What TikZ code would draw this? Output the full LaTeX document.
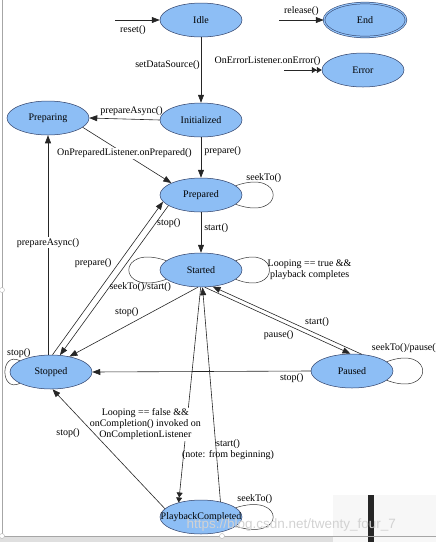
\documentclass[tikz,border=0pt]{standalone}
\usepackage{fontspec}
\setmainfont{Liberation Serif}
\newfontfamily\wmfont{Liberation Sans}
\usetikzlibrary{%
        arrows.meta,
        shapes.geometric,
        positioning,
    }
\definecolor{stateblue}{HTML}{8DBEF5}
\definecolor{stateline}{HTML}{2E3E66}
\tikzset{%
    mstate/.style={%
        ellipse,
        draw=stateline,
        fill=stateblue,
        line width=0.5pt,
        minimum width=82pt,
        minimum height=34pt,
        inner sep=0pt,
        font=\rmfamily\fontsize{10}{11}\selectfont,
    },
    trans/.style={%
        -{Triangle[length=8pt, width=6pt]},
        line width=0.6pt,
        draw=black!85,
    },
    transtwo/.style={%
        -{Triangle[length=5pt, width=6pt]Triangle[length=5pt, width=6pt]},
        line width=0.6pt,
        draw=black!85,
    },
    selfloop/.style={line width=0.5pt, draw=black!80},
    lab/.style={%
        font=\rmfamily\fontsize{10}{11}\selectfont,
        inner sep=1pt,
        align=center,
    },
}

\begin{document}
\begin{tikzpicture}[x=1pt, y=-1pt]

    \useasboundingbox (0, 0) rectangle (436, 542);

    %%%%%%%%%
    % Frame %
    %%%%%%%%%
    \fill[gray!25] (0, 537) rectangle (436, 542);
    \fill[gray!6] (333, 495) rectangle (436, 542);
    \fill[black!85] (368, 495) rectangle (374, 542);
    \draw[gray!70, line width=0.8pt] (2, 0) -- (2, 536) -- (436, 536);
    \foreach \hx/\hy in {2/290, 2/536, 222/536}{%
        \draw[gray!60, fill=white] (\hx, \hy) circle (2.5);
    };

    %%%%%%%%%%
    % States %
    %%%%%%%%%%
    \node[mstate] (idle) at (201, 20) {Idle};
    \node[mstate, double=stateblue, double distance=1.2pt] (end) at (365, 20) {End};
    \node[mstate] (error) at (363, 70) {Error};
    \node[mstate] (init) at (201, 120) {Initialized};
    \node[mstate] (preparing) at (48, 118) {Preparing};
    \node[mstate] (prepared) at (201, 195) {Prepared};
    \node[mstate] (started) at (201, 270) {Started};
    \node[mstate] (stopped) at (51, 372) {Stopped};
    \node[mstate] (paused) at (352, 371) {Paused};
    \node[mstate] (done) at (201, 517) {\makebox[0pt]{PlaybackCompleted}};

    % Entry points
    \coordinate (resetin) at (115, 20);
    \coordinate (releasein) at (279, 20);
    \coordinate (errorin) at (284, 70);

    \draw[trans] (resetin) -- (idle.west)
        node[lab, pos=0.4, below=4pt] {reset()};
    \draw[trans] (releasein) -- (end.west)
        node[lab, midway, above=3pt] {release()};
    \draw[transtwo] (errorin) -- (error.west)
        node[lab, pos=1, anchor=south east, yshift=3pt] {OnErrorListener.onError()};

    %%%%%%%%%%%%%%%
    % Transitions %
    %%%%%%%%%%%%%%%
    \draw[trans] (idle) -- (init)
        node[lab, pos=0.42, left] {setDataSource()};
    \draw[trans] (init.west) -- (preparing.east)
        node[lab, pos=0.4, above=2pt] {prepareAsync()};
    \draw[trans] (init) -- (prepared)
        node[lab, pos=0.33, right=2pt] {prepare()};
    \draw[trans] (preparing.-15) -- (prepared.158)
        node[lab, fill=white, pos=0.47] {OnPreparedListener.onPrepared()};
    \draw[trans] (prepared) -- (started)
        node[lab, pos=0.4, right=2pt] {start()};

    % Stopped and Prepared
    \draw[trans] (stopped.85) -- (prepared.190)
        node[lab, pos=0.6, left=6pt] {prepare()};
    \draw[trans] (prepared.198) -- (stopped.62)
        node[lab, pos=0.12, right=0.5pt] {stop()};
    \draw[trans] (stopped.north -| preparing.south) -- (preparing.south)
        node[lab, fill=white, pos=0.51] {prepareAsync()};
    \draw[trans] (started.-100) -- (stopped.40)
        node[lab, pos=0.45, above left=0.5pt] {stop()};

    % Started and Paused
    \draw[trans] (started.-78) -- (paused.95)
        node[lab, pos=0.62, below left=0.5pt] {pause()};
    \draw[trans] (paused.60) -- (started.-55)
        node[lab, pos=0.39, above right=0.5pt] {start()};
    \draw[trans] (paused.west) -- (stopped.east)
        node[lab, pos=0.087, below=1pt] {stop()};

    % Playback completed
    \draw[transtwo] (started.-91) -- (done.147)
        node[lab, fill=white, pos=0.65, xshift=-41pt, yshift=3pt]
        {Looping == false \&\&\\onCompletion() invoked on\\OnCompletionListener};
    \draw[trans] (done.38) -- (started.-85)
        node[lab, pos=0.245, xshift=12pt]
        {start()\\(note: from beginning)};
    \draw[trans] (done.167) -- (stopped.-85)
        node[lab, pos=0.63, left=13pt] {stop()};

    %%%%%%%%%%%%%%
    % Self loops %
    %%%%%%%%%%%%%%
    \draw[selfloop] (prepared.15) .. controls +(50, -18) and +(50, 18) .. (prepared.-15)
        node[lab, pos=0.25, above] {seekTo()};
    \draw[selfloop] (started.165) .. controls +(-50, -18) and +(-50, 18) .. (started.195)
        node[lab, pos=1, anchor=north east, xshift=6pt, yshift=-2pt] {seekTo()/start()};
    \draw[selfloop] (started.15) .. controls +(45, -18) and +(45, 18) .. (started.-15)
        node[lab, pos=0.5, right, inner sep=0pt, xshift=-2pt]
        {Looping == true \&\&\\playback completes};
    \draw[selfloop] (stopped.160) .. controls +(-20, -10) and +(-20, 10) .. (stopped.200)
        node[lab, pos=0, above=2pt, xshift=-1pt] {stop()};
    \draw[selfloop] (paused.15) .. controls +(48, -18) and +(48, 18) .. (paused.-15)
        node[lab, pos=0, anchor=south west, xshift=-16pt, yshift=8pt] {seekTo()/pause()};
    \draw[selfloop] (done.15) .. controls +(50, -16) and +(50, 16) .. (done.-15)
        node[lab, pos=0.15, above=0pt] {seekTo()};

    % Watermark
    \node[font=\wmfont\fontsize{13.5}{14}\selectfont, text=gray!35, anchor=base west]
        (mark) at (183, 528) {https://blog.csdn.net/twenty\_four\_7};

\end{tikzpicture}
\end{document}
